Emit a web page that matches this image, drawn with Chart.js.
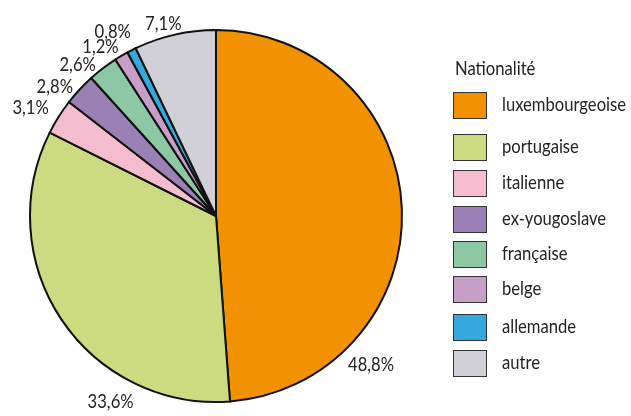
<!DOCTYPE html>
<html>
<head>
<meta charset="utf-8">
<script src="https://cdn.jsdelivr.net/npm/chart.js@4"></script>
<style>
  html, body { margin: 0; padding: 0; background: #fff; }
  #wrap { width: 631px; height: 416px; }
</style>
</head>
<body>
<div id="wrap"><canvas id="pie" width="631" height="416"></canvas></div>
<script>
// Données
const categories = ['luxembourgeoise', 'portugaise', 'italienne', 'ex-yougoslave', 'française', 'belge', 'allemande', 'autre'];
const values = [48.8, 33.6, 3.1, 2.8, 2.6, 1.2, 0.8, 7.1];
const colors = ['#F39200', '#CCDB80', '#F5BCD0', '#9B80B6', '#8DC8A4', '#C69EC8', '#35A8DD', '#D1D0D6'];
const legendTitle = 'Nationalité';

const FONT = '20px Lato, "Open Sans", sans-serif';

// décalage d'angle (degrés) et distance au bord pour chaque étiquette
const labelShift = [46, -26.5, -1.8, -4, -5, -3.7, -2.3, -2.5];
const labelGap = [29, 27, 29, 21, 19, 19, 25, 14];

const fmt = v => v.toFixed(1).replace('.', ',') + '%';

// texte condensé (police étroite non disponible)
let squeeze = 1;
function narrowText(ctx, txt, x, y, align) {
  const w = ctx.measureText(txt).width * squeeze;
  let x0 = x;
  if (align === 'center') x0 = x - w / 2;
  ctx.save();
  ctx.translate(x0, y);
  ctx.scale(squeeze, 1);
  ctx.textAlign = 'left';
  ctx.fillText(txt, 0, 0);
  ctx.restore();
}

const outsideLabels = {
  id: 'outsideLabels',
  afterDatasetsDraw(chart) {
    const ctx = chart.ctx;
    const meta = chart.getDatasetMeta(0);
    ctx.save();
    ctx.font = FONT;
    squeeze = 124 / ctx.measureText('luxembourgeoise').width;
    ctx.fillStyle = '#222';
    ctx.textBaseline = 'middle';
    meta.data.forEach((arc, i) => {
      const p = arc.getProps(['x', 'y', 'startAngle', 'endAngle', 'outerRadius'], true);
      const a = (p.startAngle + p.endAngle) / 2 + labelShift[i] * Math.PI / 180;
      const r = p.outerRadius + labelGap[i];
      narrowText(ctx, fmt(values[i]), p.x + Math.cos(a) * r, p.y + Math.sin(a) * r, 'center');
    });
    ctx.restore();
  }
};

const sideLegend = {
  id: 'sideLegend',
  afterDraw(chart) {
    const ctx = chart.ctx;
    const rows = [105, 147, 183, 219, 254, 289, 327, 363];
    ctx.save();
    ctx.font = FONT;
    squeeze = 124 / ctx.measureText('luxembourgeoise').width;
    ctx.fillStyle = '#222';
    ctx.textBaseline = 'middle';
    narrowText(ctx, legendTitle, 455, 69, 'left');
    categories.forEach((c, i) => {
      const y = rows[i];
      ctx.fillStyle = colors[i];
      ctx.fillRect(453.5, y - 13, 33, 26);
      ctx.strokeStyle = '#333';
      ctx.lineWidth = 1;
      ctx.strokeRect(453.5, y - 13 + 0.5, 33, 26);
      ctx.fillStyle = '#222';
      narrowText(ctx, c, 502, y, 'left');
    });
    ctx.restore();
  }
};

new Chart(document.getElementById('pie'), {
  type: 'pie',
  data: {
    labels: categories,
    datasets: [{
      data: values,
      backgroundColor: colors,
      borderColor: '#111',
      borderWidth: 2,
      borderJoinStyle: 'miter'
    }]
  },
  options: {
    responsive: false,
    animation: false,
    layout: { padding: { left: 29, top: 29, right: 228, bottom: 13 } },
    plugins: {
      legend: { display: false },
      tooltip: { enabled: false }
    }
  },
  plugins: [outsideLabels, sideLegend]
});
</script>
</body>
</html>
